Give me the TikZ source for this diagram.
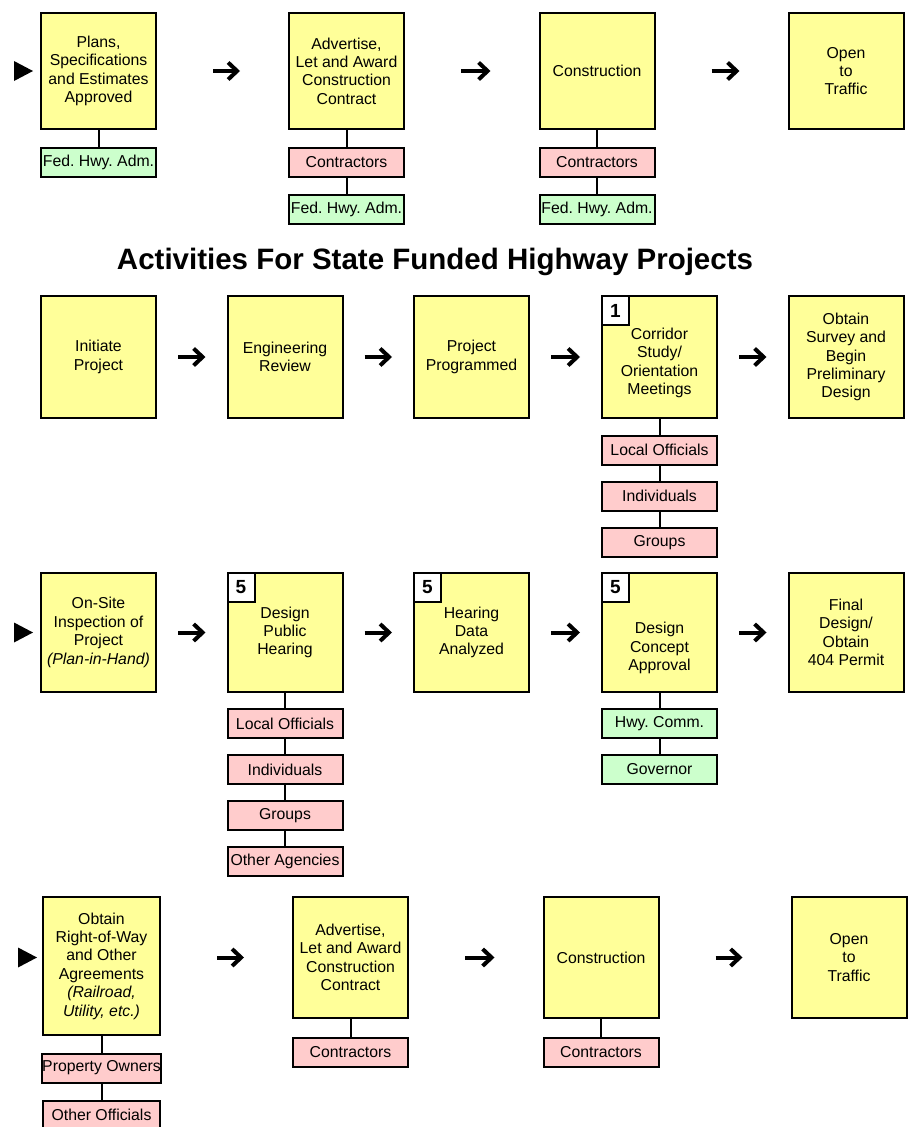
\documentclass[tikz,border=0pt]{standalone}
\usepackage{fontspec}
\setmainfont{Liberation Sans}
\usetikzlibrary{arrows.meta}
\definecolor{boxyellow}{HTML}{FFFF99}
\definecolor{boxpink}{HTML}{FFCCCC}
\definecolor{boxgreen}{HTML}{CCFFCC}
\frenchspacing

\begin{document}
\begin{tikzpicture}[x=1pt, y=-1pt,
        boxtext/.style={align=center, inner sep=0pt, font=\fontsize{15.8}{18.4}\selectfont},
        stage/.style={boxtext, draw, line width=2pt, fill=boxyellow, minimum width=115pt},
        party/.style={boxtext, draw, line width=2pt, minimum width=115pt, minimum height=29pt},
        local/.style={party, fill=boxpink},
        federal/.style={party, fill=boxgreen},
        numtag/.style={draw, line width=2pt, fill=white, inner sep=0pt, minimum width=27pt, minimum height=29pt, anchor=north west, font=\fontsize{19}{22}\selectfont\bfseries},
        link/.style={line width=2pt},
        flowarr/.style={line width=4pt, -{Straight Barb[length=9pt, width=17pt, line width=4pt]}},
        longgap/.style={flowarr, shorten <=56pt, shorten >=48pt},
        shortgap/.style={flowarr, shorten <=21pt, shorten >=21pt},
        pointer/.style={fill=black}]
        \useasboundingbox (0,0) rectangle (917,1127);

        % federal aid row
        \node[stage, minimum height=116pt] (p1) at (98.5,71) {Plans,\\Specifications\\and Estimates\\Approved};
        \node[stage, minimum height=116pt] (p2) at (346.5,71) {Advertise,\\Let and Award\\Construction\\Contract};
        \node[stage, minimum height=116pt] (p3) at (597,71) {Construction};
        \node[stage, minimum height=116pt] (p4) at (846,71) {Open\\to\\Traffic};
        \node[federal] (p1f) at (98.5,162.5) {Fed. Hwy. Adm.};
        \node[local] (p2c) at (346.5,162.5) {Contractors};
        \node[federal] (p2f) at (346.5,209.5) {Fed. Hwy. Adm.};
        \node[local] (p3c) at (597,162.5) {Contractors};
        \node[federal] (p3f) at (597,209.5) {Fed. Hwy. Adm.};
        \draw[link] (p1.south) -- (p1f.north);
        \draw[link] (p2.south) -- (p2c.north);
        \draw[link] (p2c.south) -- (p2f.north);
        \draw[link] (p3.south) -- (p3c.north);
        \draw[link] (p3c.south) -- (p3f.north);
        \draw[longgap] (p1.east) -- (p2.west);
        \draw[longgap] (p2.east) -- (p3.west);
        \draw[longgap] (p3.east) -- (p4.west);
        \fill[pointer] ([xshift=-7pt]p1.west) -- ++(-19,-10) -- ++(0,20) -- cycle;

        % title
        \node[anchor=base, font=\fontsize{29.5}{34}\selectfont\bfseries] (title) at (435,269) {Activities For State Funded Highway Projects};

        % state row one
        \node[stage, minimum height=122pt] (s1) at (98.5,357) {Initiate\\Project};
        \node[stage, minimum height=122pt] (s2) at (285,357) {Engineering\\Review};
        \node[stage, minimum height=122pt] (s3) at (471.5,357) {Project\\Programmed};
        \node[stage, minimum height=122pt, label={[boxtext, yshift=-6pt]center:{Corridor\\Study/\\Orientation\\Meetings}}] (s4) at (659.5,357) {};
        \node[stage, minimum height=122pt] (s5) at (846,357) {Obtain\\Survey and\\Begin\\Preliminary\\Design};
        \node[numtag] (s4n) at (s4.north west) {1};
        \node[local] (s4a) at (659.5,450) {Local Officials};
        \node[local] (s4b) at (659.5,496) {Individuals};
        \node[local] (s4c) at (659.5,542.5) {Groups};
        \draw[link] (s4.south) -- (s4a.north);
        \draw[link] (s4a.south) -- (s4b.north);
        \draw[link] (s4b.south) -- (s4c.north);
        \draw[shortgap] (s1.east) -- (s2.west);
        \draw[shortgap] (s2.east) -- (s3.west);
        \draw[shortgap] (s3.east) -- (s4.west);
        \draw[shortgap] (s4.east) -- (s5.west);

        % state row two
        \node[stage, minimum height=119pt] (t1) at (98.5,632.5) {On-Site\\Inspection of\\Project\\\textit{(Plan-in-Hand)}};
        \node[stage, minimum height=119pt] (t2) at (285,632.5) {Design\\Public\\Hearing};
        \node[stage, minimum height=119pt] (t3) at (471.5,632.5) {Hearing\\Data\\Analyzed};
        \node[stage, minimum height=119pt, label={[boxtext, yshift=-15.5pt]center:{Design\\Concept\\Approval}}] (t4) at (659.5,632.5) {};
        \node[stage, minimum height=119pt] (t5) at (846,632.5) {Final\\Design/\\Obtain\\404 Permit};
        \node[numtag] (t2n) at (t2.north west) {5};
        \node[numtag] (t3n) at (t3.north west) {5};
        \node[numtag] (t4n) at (t4.north west) {5};
        \node[local] (t2a) at (285,723.5) {Local Officials};
        \node[local] (t2b) at (285,769.5) {Individuals};
        \node[local] (t2c) at (285,815.5) {Groups};
        \node[local] (t2d) at (285,861.5) {Other Agencies};
        \node[federal] (t4a) at (659.5,723.5) {Hwy. Comm.};
        \node[federal] (t4b) at (659.5,769.5) {Governor};
        \draw[link] (t2.south) -- (t2a.north);
        \draw[link] (t2a.south) -- (t2b.north);
        \draw[link] (t2b.south) -- (t2c.north);
        \draw[link] (t2c.south) -- (t2d.north);
        \draw[link] (t4.south) -- (t4a.north);
        \draw[link] (t4a.south) -- (t4b.north);
        \draw[shortgap] (t1.east) -- (t2.west);
        \draw[shortgap] (t2.east) -- (t3.west);
        \draw[shortgap] (t3.east) -- (t4.west);
        \draw[shortgap] (t4.east) -- (t5.west);
        \fill[pointer] ([xshift=-7pt]t1.west) -- ++(-19,-10) -- ++(0,20) -- cycle;

        % state row three
        \node[stage, minimum width=117pt, minimum height=138pt] (u1) at (101.5,966) {Obtain\\Right-of-Way\\and Other\\Agreements\\\textit{(Railroad,}\\\textit{Utility, etc.)}};
        \node[stage, minimum height=121pt] (u2) at (350.5,957.5) {Advertise,\\Let and Award\\Construction\\Contract};
        \node[stage, minimum height=121pt] (u3) at (601,957.5) {Construction};
        \node[stage, minimum height=121pt] (u4) at (849,957.5) {Open\\to\\Traffic};
        \node[local, minimum width=117pt] (u1a) at (101.5,1068) {Property Owners};
        \node[local, minimum width=117pt] (u1b) at (101.5,1115) {Other Officials};
        \node[local] (u2c) at (350.5,1052) {Contractors};
        \node[local] (u3c) at (601,1052) {Contractors};
        \draw[link] (u1.south) -- (u1a.north);
        \draw[link] (u1a.south) -- (u1b.north);
        \draw[link] (u2.south) -- (u2c.north);
        \draw[link] (u3.south) -- (u3c.north);
        \draw[longgap] (u2.west -| u1.east) -- (u2.west);
        \draw[longgap] (u2.east) -- (u3.west);
        \draw[longgap] (u3.east) -- (u4.west);
        \fill[pointer] ([xshift=-5pt]u2.west -| u1.west) -- ++(-19,-10) -- ++(0,20) -- cycle;
\end{tikzpicture}
\end{document}
